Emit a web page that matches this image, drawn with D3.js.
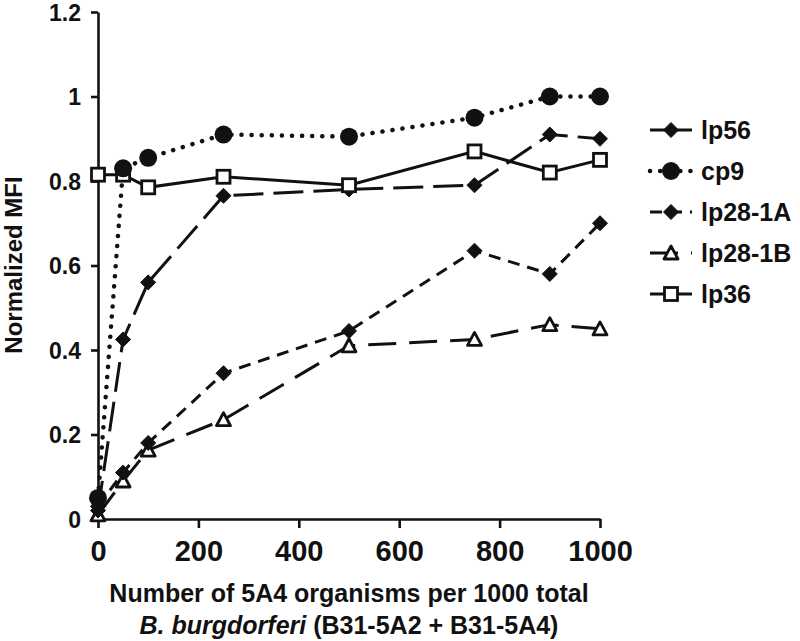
<!DOCTYPE html>
<html>
<head>
<meta charset="utf-8">
<script src="https://cdn.jsdelivr.net/npm/d3@7"></script>
<style>
  body { margin: 0; background: #fff; }
  text { font-family: "Liberation Sans", Arial, sans-serif; font-weight: bold; fill: #111; }
</style>
</head>
<body>
<svg id="chart"></svg>
<script>
  const width = 800, height = 641;

  // data
  const xValues = [0, 50, 100, 250, 500, 750, 900, 1000];
  const lp56 = [0.02, 0.425, 0.56, 0.765, 0.78, 0.79, 0.91, 0.90];
  const cp9 = [0.05, 0.83, 0.855, 0.91, 0.905, 0.95, 1.0, 1.0];
  const lp28_1A = [0.03, 0.11, 0.18, 0.345, 0.445, 0.635, 0.58, 0.70];
  const lp28_1B = [0.01, 0.09, 0.163, 0.235, 0.41, 0.425, 0.46, 0.45];
  const lp36 = [0.815, 0.815, 0.785, 0.81, 0.79, 0.87, 0.82, 0.85];
  const seriesNames = ["lp56", "cp9", "lp28-1A", "lp28-1B", "lp36"];
  const xTicks = [0, 200, 400, 600, 800, 1000];
  const yTicks = [0, 0.2, 0.4, 0.6, 0.8, 1, 1.2];

  // styles per series
  const styles = {
    "lp56":    { values: lp56,    dash: "30 10", marker: "diamond" },
    "cp9":     { values: cp9,     dash: "0.1 10", marker: "circle", cap: "round", width: 4.5 },
    "lp28-1A": { values: lp28_1A, dash: "12 8", marker: "diamond" },
    "lp28-1B": { values: lp28_1B, dash: "28 13", marker: "triangle" },
    "lp36":    { values: lp36,    dash: null, marker: "square" }
  };

  const svg = d3.select("#chart")
      .attr("width", width)
      .attr("height", height)
      .attr("viewBox", `0 0 ${width} ${height}`);

  svg.append("rect").attr("width", width).attr("height", height).attr("fill", "#fff");

  const x = d3.scaleLinear().domain([0, 1000]).range([98, 600]);
  const y = d3.scaleLinear().domain([0, 1.2]).range([519, 12]);

  // axes
  const yAxis = svg.append("g")
      .attr("transform", `translate(${x(0)},0)`)
      .call(d3.axisLeft(y).tickValues(yTicks).tickFormat(d => String(d)).tickSize(7).tickSizeOuter(0).tickPadding(10));
  yAxis.selectAll("text").style("font-size", "23px").attr("dy", "0.36em");

  const xAxis = svg.append("g")
      .attr("transform", `translate(0,${y(0)})`)
      .call(d3.axisBottom(x).tickValues(xTicks).tickFormat(d => String(d)).tickSize(9).tickSizeOuter(0).tickPadding(12));
  xAxis.selectAll("text").style("font-size", "29px");

  svg.selectAll(".domain, .tick line").attr("stroke", "#111").attr("stroke-width", 2.6);

  // axis titles
  svg.append("text")
      .attr("x", 349).attr("y", 602)
      .attr("text-anchor", "middle")
      .style("font-size", "25px")
      .text("Number of 5A4 organisms per 1000 total");
  const t2 = svg.append("text")
      .attr("x", 349).attr("y", 634)
      .attr("text-anchor", "middle")
      .style("font-size", "25px");
  t2.append("tspan").style("font-style", "italic").text("B. burgdorferi");
  t2.append("tspan").text(" (B31-5A2 + B31-5A4)");

  svg.append("text")
      .attr("transform", "translate(22,265) rotate(-90)")
      .attr("text-anchor", "middle")
      .style("font-size", "24px")
      .text("Normalized MFI");

  // markers
  function drawMarker(g, type, cx, cy) {
    if (type === "diamond") {
      g.append("path")
        .attr("d", `M${cx},${cy - 7.5}L${cx + 7.5},${cy}L${cx},${cy + 7.5}L${cx - 7.5},${cy}Z`)
        .attr("fill", "#111").attr("stroke", "#111").attr("stroke-width", 1);
    } else if (type === "circle") {
      g.append("circle").attr("cx", cx).attr("cy", cy).attr("r", 9)
        .attr("fill", "#111");
    } else if (type === "square") {
      g.append("rect").attr("x", cx - 6.5).attr("y", cy - 6.5).attr("width", 13).attr("height", 13)
        .attr("fill", "#fff").attr("stroke", "#111").attr("stroke-width", 2.8);
    } else if (type === "triangle") {
      g.append("path")
        .attr("d", `M${cx},${cy - 7}L${cx + 7},${cy + 6}L${cx - 7},${cy + 6}Z`)
        .attr("fill", "#fff").attr("stroke", "#111").attr("stroke-width", 2.8).attr("stroke-linejoin", "round");
    }
  }

  const line = d3.line().x(d => x(d[0])).y(d => y(d[1]));

  const plot = svg.append("g");
  const drawOrder = ["lp28-1B", "lp28-1A", "lp56", "lp36", "cp9"];
  drawOrder.forEach(name => {
    const s = styles[name];
    const pts = xValues.map((v, i) => [v, s.values[i]]);
    plot.append("path")
        .datum(pts)
        .attr("d", line)
        .attr("fill", "none")
        .attr("stroke", "#111")
        .attr("stroke-width", s.width || 3)
        .attr("stroke-linecap", s.cap || "butt")
        .attr("stroke-dasharray", s.dash);
  });
  drawOrder.forEach(name => {
    const s = styles[name];
    const g = plot.append("g");
    xValues.forEach((v, i) => drawMarker(g, s.marker, x(v), y(s.values[i])));
  });

  // legend
  const legend = svg.append("g");
  seriesNames.forEach((name, i) => {
    const s = styles[name];
    const cy = 130 + i * 41;
    legend.append("line")
        .attr("x1", 650).attr("x2", 692).attr("y1", cy).attr("y2", cy)
        .attr("stroke", "#111")
        .attr("stroke-width", s.width || 3)
        .attr("stroke-linecap", s.cap || "butt")
        .attr("stroke-dasharray", name === "lp56" ? null : s.dash);
    drawMarker(legend, s.marker, 671, cy);
    legend.append("text")
        .attr("x", 701).attr("y", cy + 9)
        .style("font-size", "25px")
        .text(name);
  });
</script>
</body>
</html>
